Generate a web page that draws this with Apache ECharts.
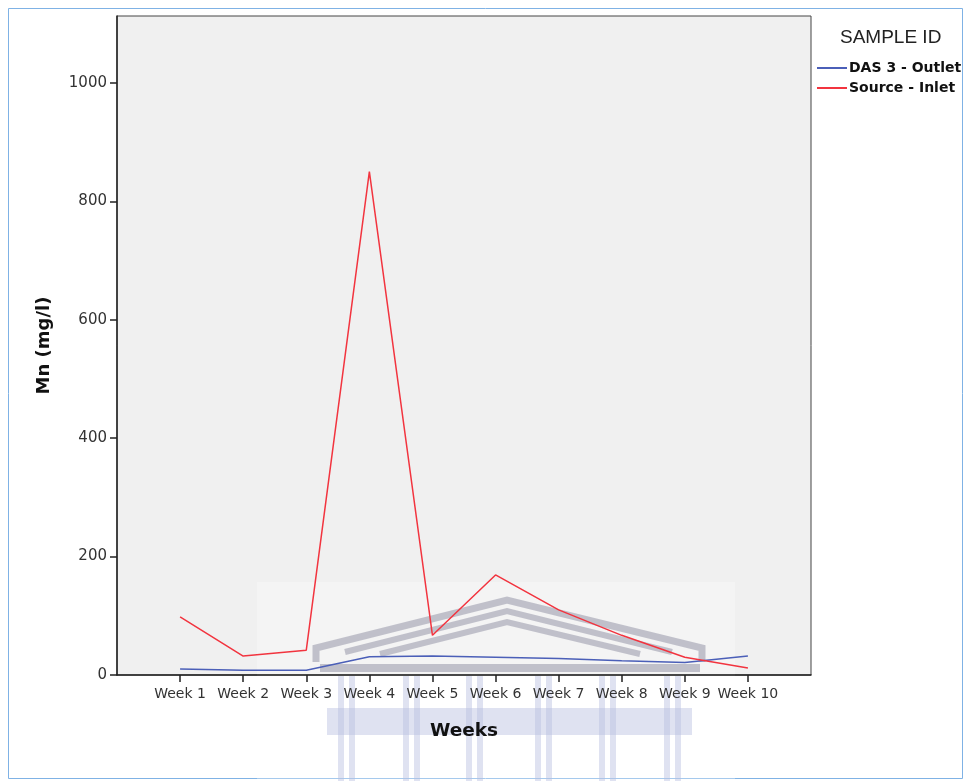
<!DOCTYPE html>
<html>
<head>
<meta charset="utf-8">
<script src="https://cdn.jsdelivr.net/npm/echarts@6/dist/echarts.min.js"></script>
<style>
  html, body { margin: 0; padding: 0; background: #ffffff; }
  #chart { width: 964px; height: 781px; }
</style>
</head>
<body>
<div id="chart"></div>
<script>
// Weekly manganese concentrations (mg/l) per sampling point
const weeks = ['Week 1', 'Week 2', 'Week 3', 'Week 4', 'Week 5', 'Week 6', 'Week 7', 'Week 8', 'Week 9', 'Week 10'];
const das3Outlet = [10, 8, 8, 31, 32, 30, 28, 24, 21, 32];
const sourceInlet = [98, 32, 42, 850, 67, 169, 110, 67, 30, 12];
const yTicks = [0, 200, 400, 600, 800, 1000];
const seriesNames = ['DAS 3 - Outlet', 'Source - Inlet'];

const chart = echarts.init(document.getElementById('chart'));

const toPoints = vals => vals.map((v, i) => [i + 1, v]);
const weekPositions = weeks.map((_, i) => i + 1);
const sans = 'DejaVu Sans, Verdana, sans-serif';

// Faded crest drawn behind the lines
const crestStroke = 'rgba(150,150,168,0.55)';
const crestFill = 'rgba(185,190,225,0.45)';
const columnPairs = [338, 403, 466, 535, 599, 664];
const columns = [];
columnPairs.forEach(x => {
  columns.push({ type: 'rect', shape: { x: x, y: 676, width: 6, height: 105 }, style: { fill: crestFill }, z: 1, silent: true });
  columns.push({ type: 'rect', shape: { x: x + 11, y: 676, width: 6, height: 105 }, style: { fill: crestFill }, z: 1, silent: true });
});

const crest = [
  { type: 'rect', shape: { x: 257, y: 582, width: 478, height: 199 }, style: { fill: 'rgba(255,255,255,0.3)' }, z: 1, silent: true },
  { type: 'polyline', shape: { points: [[316, 662], [316, 648], [507, 600], [702, 648], [702, 662]] }, style: { stroke: crestStroke, lineWidth: 7, fill: null }, z: 1, silent: true },
  { type: 'polyline', shape: { points: [[345, 652], [507, 611], [672, 652]] }, style: { stroke: crestStroke, lineWidth: 6, fill: null }, z: 1, silent: true },
  { type: 'polyline', shape: { points: [[380, 654], [507, 622], [640, 654]] }, style: { stroke: crestStroke, lineWidth: 6, fill: null }, z: 1, silent: true },
  { type: 'rect', shape: { x: 320, y: 664, width: 380, height: 8 }, style: { fill: crestStroke }, z: 1, silent: true },
  { type: 'rect', shape: { x: 327, y: 708, width: 365, height: 27 }, style: { fill: crestFill }, z: 1, silent: true }
].concat(columns);

const option = {
  backgroundColor: '#ffffff',
  animation: false,
  textStyle: { fontFamily: sans },
  grid: {
    left: 117, right: 153, top: 16, bottom: 106,
    show: true, backgroundColor: '#f0f0f0', borderColor: '#444', borderWidth: 1
  },
  title: {
    text: 'SAMPLE ID',
    left: 835, top: 23,
    textStyle: { fontSize: 19, fontWeight: 'normal', color: '#222', fontFamily: 'Liberation Sans, Arial, sans-serif' }
  },
  legend: {
    orient: 'vertical',
    left: 812, top: 56,
    icon: 'rect',
    itemWidth: 30, itemHeight: 2, itemGap: 6,
    data: seriesNames,
    textStyle: { fontSize: 14, fontWeight: 'bold', color: '#111', fontFamily: sans, padding: [0, 0, 0, -3] }
  },
  xAxis: {
    type: 'value',
    min: 0, max: 11,
    z: 5,
    name: 'Weeks',
    nameLocation: 'middle',
    nameGap: 47,
    nameTextStyle: { fontSize: 18.5, fontWeight: 'bold', color: '#111', fontFamily: sans },
    splitLine: { show: false },
    axisLine: { show: true, onZero: false, lineStyle: { color: '#222', width: 1.5 } },
    axisTick: { show: true, customValues: weekPositions, length: 7, lineStyle: { color: '#222', width: 1.5 } },
    axisLabel: {
      customValues: weekPositions,
      formatter: v => weeks[v - 1] || '',
      fontSize: 14, color: '#333', margin: 12, fontFamily: sans
    }
  },
  yAxis: {
    type: 'value',
    min: 0, max: 1113,
    z: 5,
    name: 'Mn (mg/l)',
    nameLocation: 'middle',
    nameGap: 64,
    nameRotate: 90,
    nameTextStyle: { fontSize: 18, fontWeight: 'bold', color: '#111', fontFamily: sans },
    splitLine: { show: false },
    axisLine: { show: true, lineStyle: { color: '#222', width: 1.5 } },
    axisTick: { show: true, customValues: yTicks, length: 7, lineStyle: { color: '#222', width: 1.5 } },
    axisLabel: { customValues: yTicks, formatter: v => String(v), fontSize: 15, color: '#333', margin: 10, fontFamily: sans }
  },
  series: [
    {
      name: seriesNames[0],
      type: 'line',
      data: toPoints(das3Outlet),
      showSymbol: false,
      color: '#4b5fb8',
      lineStyle: { color: '#4b5fb8', width: 1.5 },
      z: 3
    },
    {
      name: seriesNames[1],
      type: 'line',
      data: toPoints(sourceInlet),
      showSymbol: false,
      color: '#f2343f',
      lineStyle: { color: '#f2343f', width: 1.5 },
      z: 3
    }
  ],
  graphic: [
    { type: 'rect', shape: { x: 8.5, y: 8.5, width: 954, height: 770 }, style: { fill: null, stroke: '#7fb2e5', lineWidth: 1 }, z: 0, silent: true }
  ].concat(crest)
};

chart.setOption(option);
</script>
</body>
</html>
